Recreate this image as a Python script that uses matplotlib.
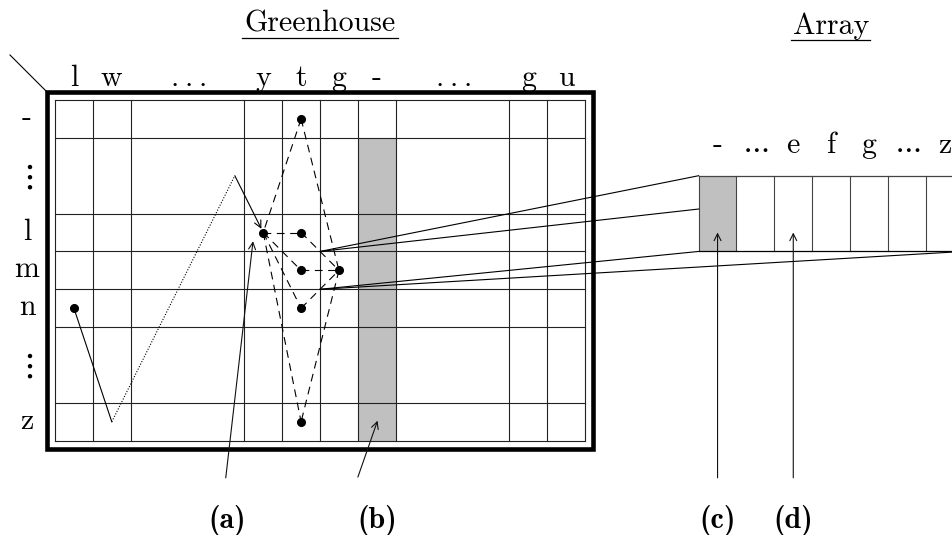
import matplotlib
matplotlib.use("Agg")
import matplotlib.pyplot as plt
import numpy as np
from matplotlib.patches import Rectangle, FancyArrowPatch

plt.rcParams['mathtext.fontset'] = 'cm'

# ---- data ----
DOTS = r'$\cdot\:\cdot\:\cdot$'
CDOTS = r'$\cdots$'
VDOTS = r'$\vdots$'
col_labels = ['l', 'w', DOTS, 'y', 't', 'g', '-', DOTS, 'g', 'u']
col_widths = [1, 1, 3, 1, 1, 1, 1, 3, 1, 1]
row_labels = ['-', VDOTS, 'l', 'm', 'n', VDOTS, 'z']
row_heights = [1, 2, 1, 1, 1, 2, 1]
shaded_col = 6          # greyed column (from row 1 downwards)
shaded_from_row = 1
# points as (column index, row index)
points = [(4, 0), (3, 2), (4, 2), (4, 3), (5, 3), (4, 4), (4, 6), (0, 4)]
dashed_edges = [(0, 1), (0, 4), (1, 6), (4, 6), (1, 2), (3, 4), (1, 3), (1, 5), (2, 4), (5, 4)]
# path in grid units: from the n-point, then bends
path_solid1 = [(0.5, 5.5), (1.5, 8.5)]
path_dotted = [(1.5, 8.5), (4.75, 2.0)]
array_labels = ['-', CDOTS, 'e', 'f', 'g', CDOTS, 'z']
array_cells = 8
array_x0, array_y0, array_h = 17, 2, 2
array_shaded = 0
links = [((7, 4), (17, 2)), ((7, 4), (17, 2.88)), ((7, 5), (17, 4)), ((7, 5), (24, 4))]
arrows = [((4.51, 9.98), (5.23, 3.73)), ((8.0, 9.96), (8.52, 8.47)),
          ((17.5, 9.98), (17.5, 3.5)), ((19.5, 9.98), (19.5, 3.5))]
arrow_labels = ['(a)', '(b)', '(c)', '(d)']
arrow_label_x = [4.54, 8.5, 17.5, 19.5]

# ---- geometry ----
U = 37.86
X0, Y0 = 55, 100
def px(ux, uy):
    return X0 + ux * U, Y0 + uy * U

cb = np.concatenate([[0], np.cumsum(col_widths)])
rb = np.concatenate([[0], np.cumsum(row_heights)])
cc = (cb[:-1] + cb[1:]) / 2
rc = (rb[:-1] + rb[1:]) / 2

fig = plt.figure(figsize=(9.52, 5.35), dpi=100)
ax = fig.add_axes([0, 0, 1, 1])
ax.set_xlim(0, 952)
ax.set_ylim(535, 0)
ax.axis('off')

LC = '#222222'
GC = '#c0c0c0'
FS = 21.5
rm = dict(family='cmr10', fontsize=FS, color='black')

def put(x, ybase, ymid, s):
    if s == VDOTS:
        ax.text(x, ymid, s, ha='center', va='center', fontsize=FS + 4)
    elif s.startswith('$'):
        ax.text(x, ymid, s, ha='center', va='center', fontsize=FS)
    else:
        ax.text(x, ybase, s, ha='center', va='baseline', **rm)

# shaded column
x_a, y_a = px(cb[shaded_col], rb[shaded_from_row])
x_b, y_b = px(cb[shaded_col + 1], rb[-1])
ax.add_patch(Rectangle((x_a, y_a), x_b - x_a, y_b - y_a, facecolor=GC, edgecolor='none', zorder=1))

# grid
for c in cb:
    x, _ = px(c, 0)
    ax.plot([x, x], [px(0, 0)[1], px(0, rb[-1])[1]], color=LC, lw=0.8, zorder=2)
for r in rb:
    _, y = px(0, r)
    ax.plot([px(0, 0)[0], px(cb[-1], 0)[0]], [y, y], color=LC, lw=0.8, zorder=2)

# thick frame
gx0, gy0 = px(0, 0)
gx1, gy1 = px(cb[-1], rb[-1])
m = 8
ax.add_patch(Rectangle((gx0 - m, gy0 - m), gx1 - gx0 + 2 * m, gy1 - gy0 + 2 * m,
                       facecolor='none', edgecolor='black', lw=3.3, zorder=3))
ax.plot([10, gx0 - m], [55, gy0 - m], color='black', lw=0.8)

# labels
for i, lab in enumerate(col_labels):
    x, _ = px(cc[i], 0)
    put(x, 86, 81, lab)
for j, lab in enumerate(row_labels):
    _, y = px(0, rc[j])
    put(27, y + 7, y, lab)

# titles
ax.text(320, 32, 'Greenhouse', ha='center', va='baseline', **rm)
ax.plot([242, 398], [37.5, 37.5], color='black', lw=0.9)
ax.text(831, 34, 'Array', ha='center', va='baseline', **rm)
ax.plot([791, 870], [40, 40], color='black', lw=0.9)

# points
pts = [px(cc[c], rc[r]) for c, r in points]
for a, b in dashed_edges:
    ax.plot([pts[a][0], pts[b][0]], [pts[a][1], pts[b][1]], color='black', lw=0.8,
            ls=(0, (7, 5)), zorder=4)
for x, y in pts:
    ax.plot(x, y, 'o', color='black', ms=5.5, zorder=5)

# path from n-point
p = [px(*q) for q in path_solid1]
ax.plot([q[0] for q in p], [q[1] for q in p], color='black', lw=0.8, zorder=4)
p = [px(*q) for q in path_dotted]
ax.plot([q[0] for q in p], [q[1] for q in p], color='black', lw=0.8, ls=(0, (1, 1.5)), zorder=4)
s = px(*path_dotted[-1])
ax.add_patch(FancyArrowPatch(s, pts[1], arrowstyle='->,head_length=5,head_width=2.5',
                             color='black', lw=0.8, shrinkA=0, shrinkB=3, zorder=4))

# array
ax0x, ax0y = px(array_x0, array_y0)
ax1x, ax1y = px(array_x0 + array_cells, array_y0 + array_h)
sx, sy = px(array_x0 + array_shaded, array_y0)
ax.add_patch(Rectangle((sx, sy), U, array_h * U, facecolor=GC, edgecolor='none', zorder=1))
for k in range(array_cells):
    x, _ = px(array_x0 + k, 0)
    ax.plot([x, x], [ax0y, ax1y], color='#444444', lw=0.8, zorder=2)
ax.plot([ax0x, ax1x], [ax0y, ax0y], color='#444444', lw=0.9, zorder=2)
ax.plot([ax0x, ax1x], [ax1y, ax1y], color='black', lw=0.9, zorder=2)
for k, lab in enumerate(array_labels):
    x, _ = px(array_x0 + k + 0.5, 0)
    put(x, 153, 147, lab)

# links
for (a, b) in links:
    pa, pb = px(*a), px(*b)
    ax.plot([pa[0], pb[0]], [pa[1], pb[1]], color='black', lw=0.8, zorder=4)

# arrows and labels
for (t, h), lab, lx in zip(arrows, arrow_labels, arrow_label_x):
    ax.add_patch(FancyArrowPatch(px(*t), px(*h), arrowstyle='->,head_length=5,head_width=2.5',
                                 color='#111111', lw=0.8, shrinkA=0, shrinkB=0, zorder=4))
    x, _ = px(lx, 0)
    ax.text(x, 521, lab, ha='center', va='center', family='cmb10', fontsize=FS)

fig.savefig('out.png', dpi=100)
